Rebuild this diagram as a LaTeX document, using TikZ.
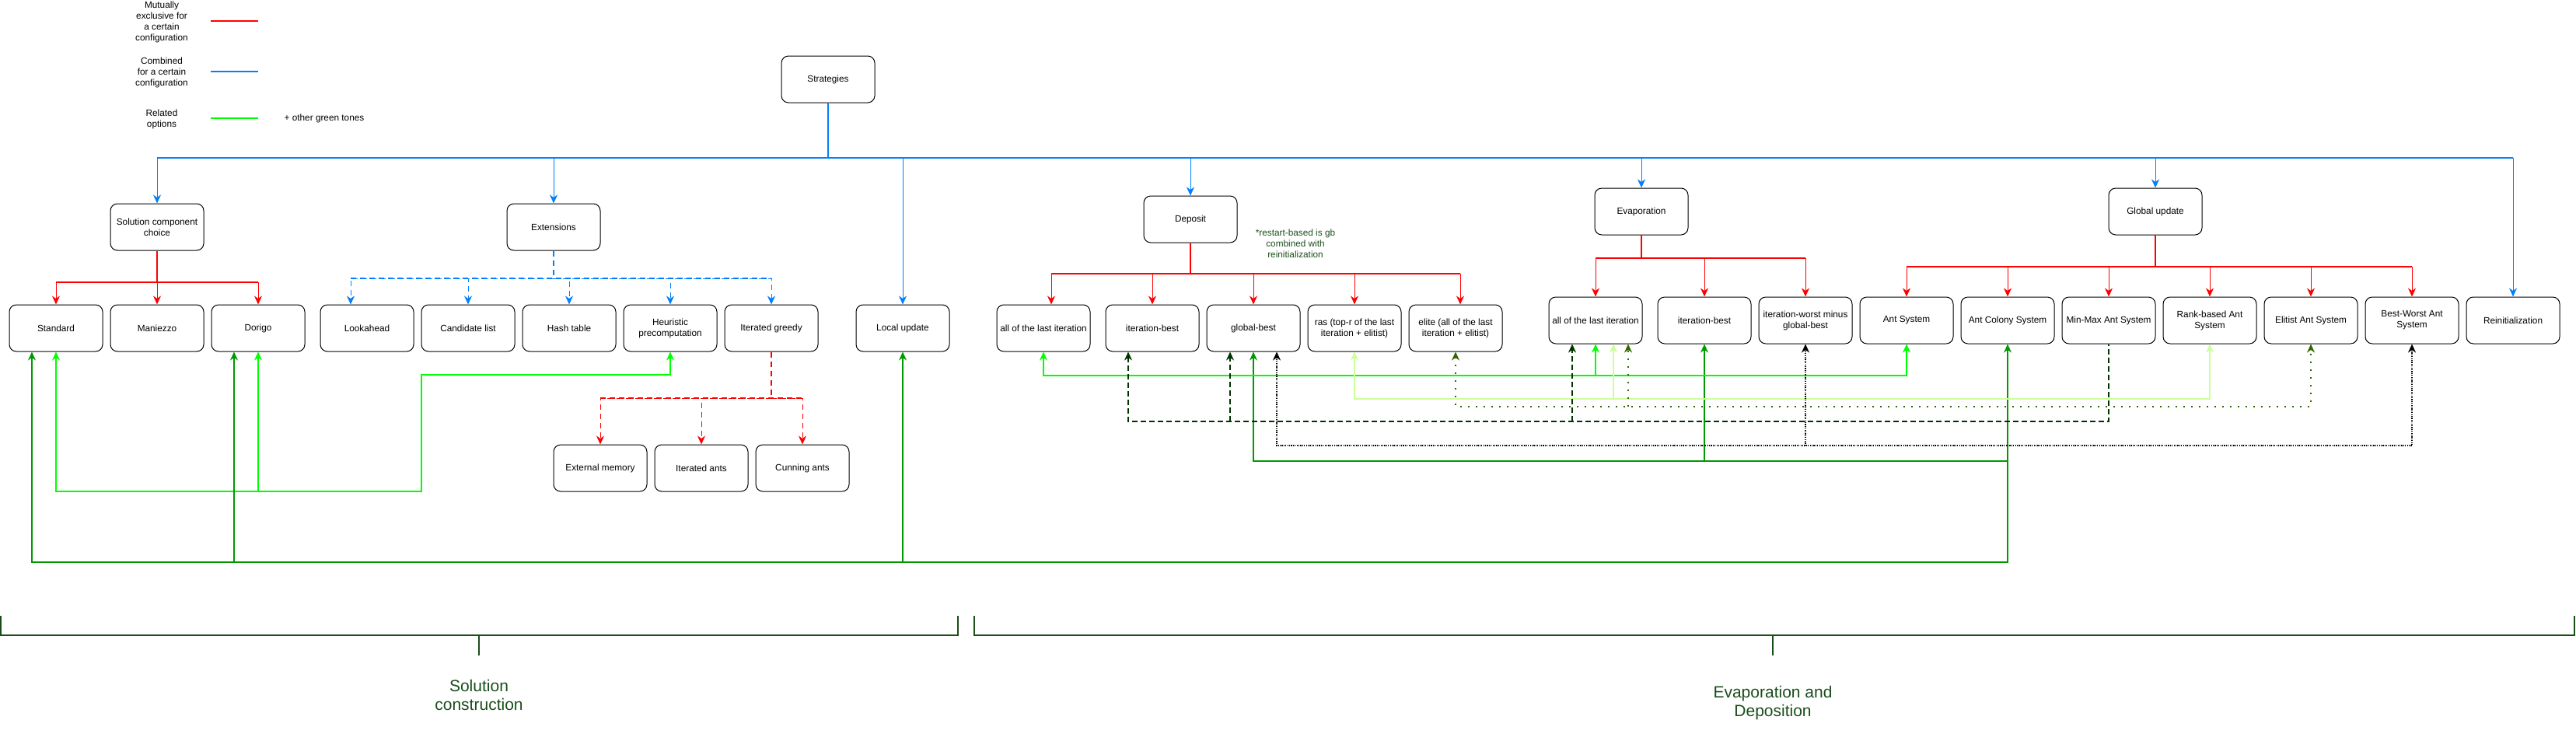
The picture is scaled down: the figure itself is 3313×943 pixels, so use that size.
\documentclass[tikz,border=0pt]{standalone}
\usepackage{fontspec}
\setmainfont{Liberation Sans}
\usetikzlibrary{arrows.meta}

\definecolor{exred}{HTML}{FF0000}
\definecolor{comblue}{HTML}{007FFF}
\definecolor{relgreen}{HTML}{00FF00}
\definecolor{midgreen}{HTML}{009900}
\definecolor{palegreen}{HTML}{CCFF99}
\definecolor{olivegreen}{HTML}{336600}
\definecolor{darkgreen}{HTML}{003300}
\definecolor{notegreen}{HTML}{1A4D1A}

\begin{document}
\begin{tikzpicture}[x=1pt, y=-1pt,
  >={Stealth[length=11pt,width=10pt,inset=3.5pt]},
  box/.style={draw, line width=1pt, rounded corners=9pt, minimum width=120pt, minimum height=60pt,
    align=center, font=\fontsize{11.8pt}{14pt}\selectfont},
  legend/.style={align=center, font=\fontsize{11.8pt}{14pt}\selectfont},
  excl/.style={draw=exred, line width=1pt, ->},
  comb/.style={draw=comblue, line width=1pt, ->},
  trunk/.style={line width=2pt, -},
  dashline/.style={dash pattern=on 7pt off 5pt},
  relg/.style={draw=relgreen, line width=1.6pt},
  midg/.style={draw=midgreen, line width=1.6pt},
  paleg/.style={draw=palegreen, line width=1.4pt},
  oliveg/.style={draw=olivegreen, line width=1.6pt, dash pattern=on 2pt off 8pt},
  darkg/.style={draw=darkgreen, line width=1.8pt, dash pattern=on 7pt off 4pt},
  blackdot/.style={draw=black, line width=1.6pt, dash pattern=on 1.2pt off 1.2pt}]

\useasboundingbox (0,0) rectangle (3313,943);

% legend
\node[legend] (lgex) at (208,28) {Mutually\\exclusive for\\a certain\\configuration};
\node[legend] (lgco) at (208,93) {Combined\\for a certain\\configuration};
\node[legend] (lgre) at (208,153) {Related\\options};
\node[legend] (lgtones) at (417,152) {+ other green tones};
\coordinate (lgexa) at (271,27);
\coordinate (lgexb) at (332,27);
\coordinate (lgcoa) at (271,92);
\coordinate (lgcob) at (332,92);
\coordinate (lgrea) at (271,152);
\coordinate (lgreb) at (332,152);
\draw[exred, line width=2pt] (lgexa) -- (lgexb);
\draw[comblue, line width=2pt] (lgcoa) -- (lgcob);
\draw[relgreen, line width=2pt] (lgrea) -- (lgreb);

% boxes
\node[box] (strat) at (1065,102) {Strategies};

\node[box] (scc) at (202,292) {Solution component\\choice};
\node[box] (ext) at (712,292) {Extensions};
\node[box] (std) at (72,422) {Standard};
\node[box] (man) at (202,422) {Maniezzo};
\node[box] (dor) at (332,422) {Dorigo};
\node[box] (look) at (472,422) {Lookahead};
\node[box] (cand) at (602,422) {Candidate list};
\node[box] (hash) at (732,422) {Hash table};
\node[box] (heur) at (862,422) {Heuristic\\precomputation};
\node[box] (itgr) at (992,422) {Iterated greedy};
\node[box] (extmem) at (772,602) {External memory};
\node[box] (itants) at (902,602) {Iterated ants};
\node[box] (cunning) at (1032,602) {Cunning ants};
\node[box] (local) at (1161,422) {Local update};

\node[box] (depo) at (1531,282) {Deposit};
\node[box] (dall) at (1342,422) {all of the last iteration};
\node[box] (dib) at (1482,422) {iteration-best};
\node[box] (dgb) at (1612,422) {global-best};
\node[box] (dras) at (1742,422) {ras (top-r of the last\\iteration + elitist)};
\node[box] (delite) at (1872,422) {elite (all of the last\\iteration + elitist)};
\node[legend, text=notegreen] (note) at (1666,313) {*restart-based is gb\\combined with\\reinitialization};

\node[box] (evap) at (2111,272) {Evaporation};
\node[box] (eall) at (2052,412) {all of the last iteration};
\node[box] (eib) at (2192,412) {iteration-best};
\node[box] (eiw) at (2322,412) {iteration-worst minus\\global-best};

\node[box] (gupd) at (2772,272) {Global update};
\node[box] (as) at (2452,412) {Ant System};
\node[box] (acs) at (2582,412) {Ant Colony System};
\node[box] (mmas) at (2712,412) {Min-Max Ant System};
\node[box] (rank) at (2842,412) {Rank-based Ant\\System};
\node[box] (eas) at (2972,412) {Elitist Ant System};
\node[box] (bwas) at (3102,412) {Best-Worst Ant\\System};
\node[box] (reinit) at (3232,412) {Reinitialization};

% combined (blue)
\coordinate (sbus) at (1065,203);
\draw[comb] (sbus) -| (scc.north);
\draw[comb] (sbus) -| (ext.north);
\draw[comb] (sbus) -| (local.north);
\draw[comb] (sbus) -| (depo.north);
\draw[comb] (sbus) -| (evap.north);
\draw[comb] (sbus) -| (gupd.north);
\draw[comb] (sbus) -| (reinit.north);
\draw[comb, trunk] (strat.south) -- (sbus);
\draw[comb, trunk] (scc.north |- sbus) -- (reinit.north |- sbus);

\coordinate (extbus) at (712,358);
\coordinate (lookin) at ([xshift=-21pt]look.north);
\draw[comb, trunk, dashline] (ext.south) -- (extbus);
\draw[comb, trunk, dashline] (lookin |- extbus) -- (itgr.north |- extbus);
\draw[comb, dashline] (extbus) -| (lookin);
\draw[comb, dashline] (extbus) -| (cand.north);
\draw[comb, dashline] (extbus) -| (hash.north);
\draw[comb, dashline] (extbus) -| (heur.north);
\draw[comb, dashline] (extbus) -| (itgr.north);

% mutually exclusive (red)
\coordinate (sccbus) at (202,363);
\draw[excl, trunk] (scc.south) -- (sccbus);
\draw[excl, trunk] (std.north |- sccbus) -- (dor.north |- sccbus);
\draw[excl] (sccbus) -| (std.north);
\draw[excl] (sccbus) -- (man.north);
\draw[excl] (sccbus) -| (dor.north);

\coordinate (igbus) at (992,512);
\draw[excl, trunk, dashline] (itgr.south) -- (igbus);
\draw[excl, trunk, dashline] (extmem.north |- igbus) -- (cunning.north |- igbus);
\draw[excl, dashline] (igbus) -| (extmem.north);
\draw[excl, dashline] (igbus) -| (itants.north);
\draw[excl, dashline] (igbus) -| (cunning.north);

\coordinate (depbus) at (1531,352);
\coordinate (dallin) at ([xshift=10pt]dall.north);
\coordinate (delitein) at ([xshift=6pt]delite.north);
\draw[excl, trunk] (depo.south) -- (depbus);
\draw[excl, trunk] (dallin |- depbus) -- (delitein |- depbus);
\draw[excl] (depbus) -| (dallin);
\draw[excl] (depbus) -| (dib.north);
\draw[excl] (depbus) -| (dgb.north);
\draw[excl] (depbus) -| (dras.north);
\draw[excl] (depbus) -| (delitein);

\coordinate (evbus) at (2111,332);
\draw[excl, trunk] (evap.south) -- (evbus);
\draw[excl, trunk] (eall.north |- evbus) -- (eiw.north |- evbus);
\draw[excl] (evbus) -| (eall.north);
\draw[excl] (evbus) -| (eib.north);
\draw[excl] (evbus) -| (eiw.north);

\coordinate (gubus) at (2772,343);
\draw[excl, trunk] (gupd.south) -- (gubus);
\draw[excl, trunk] (as.north |- gubus) -- (bwas.north |- gubus);
\draw[excl] (gubus) -| (as.north);
\draw[excl] (gubus) -| (acs.north);
\draw[excl] (gubus) -| (mmas.north);
\draw[excl] (gubus) -| (rank.north);
\draw[excl] (gubus) -| (eas.north);
\draw[excl] (gubus) -| (bwas.north);

% related options (greens)
\coordinate (gl1) at (542,482);
\coordinate (gl2) at (542,632);
\draw[relg, <->] (heur.south) |- (gl1) -- (gl2) -| (std.south);
\draw[relg, ->] (dor.south |- gl2) -- (dor.south);

\coordinate (stdd) at ([xshift=-31pt]std.south);
\coordinate (dord) at ([xshift=-31pt]dor.south);
\coordinate (gbot) at (41,723);
\draw[midg, <->] (stdd) -- (gbot) -| (acs.south);
\draw[midg, ->] (dord |- gbot) -- (dord);
\draw[midg, ->] (local.south |- gbot) -- (local.south);

\coordinate (gmid) at (1612,593);
\draw[midg, <-] (dgb.south) -- (gmid) -- (acs.south |- gmid);
\draw[midg, ->] (eib.south |- gmid) -- (eib.south);

\coordinate (gtop) at (1342,483);
\draw[relg, <->] (dall.south) -- (gtop) -| (as.south);
\draw[relg, ->] (eall.south |- gtop) -- (eall.south);

\coordinate (gpale) at (1742,513);
\coordinate (eallp) at ([xshift=23pt]eall.south);
\draw[paleg, <->] (dras.south) -- (gpale) -| (rank.south);
\draw[paleg, ->] (eallp |- gpale) -- (eallp);

\coordinate (golive) at (1872,523);
\coordinate (eallo) at ([xshift=42pt]eall.south);
\draw[oliveg, <->] (delite.south) -- (golive) -| (eas.south);
\draw[oliveg, ->] (eallo |- golive) -- (eallo);

\coordinate (dibd) at ([xshift=-31pt]dib.south);
\coordinate (dgbd) at ([xshift=-30pt]dgb.south);
\coordinate (ealld) at ([xshift=-30pt]eall.south);
\coordinate (gdash) at (1451,542);
\draw[darkg, <-] (dibd) -- (gdash) -| (mmas.south);
\draw[darkg, ->] (dgbd |- gdash) -- (dgbd);
\draw[darkg, ->] (ealld |- gdash) -- (ealld);

\coordinate (dgbb) at ([xshift=30pt]dgb.south);
\coordinate (gdot) at (1642,573);
\draw[blackdot, <->] (dgbb) -- (gdot) -| (bwas.south);
\draw[blackdot, ->] (eiw.south |- gdot) -- (eiw.south);

% brackets
\draw[notegreen, line width=2pt] (1,792) -- (1,817) -- (1232,817) -- (1232,792);
\draw[notegreen, line width=1.5pt] (616,817) -- (616,843);
\draw[notegreen, line width=2pt] (1253,792) -- (1253,817) -- (3311,817) -- (3311,792);
\draw[notegreen, line width=1.5pt] (2280,817) -- (2280,843);
\node[align=center, text=notegreen, font=\fontsize{21pt}{24pt}\selectfont] (solc) at (616,894) {Solution\\construction};
\node[align=center, text=notegreen, font=\fontsize{21pt}{24pt}\selectfont] (evdep) at (2280,904) {Evaporation and\\Deposition};

\end{tikzpicture}
\end{document}
